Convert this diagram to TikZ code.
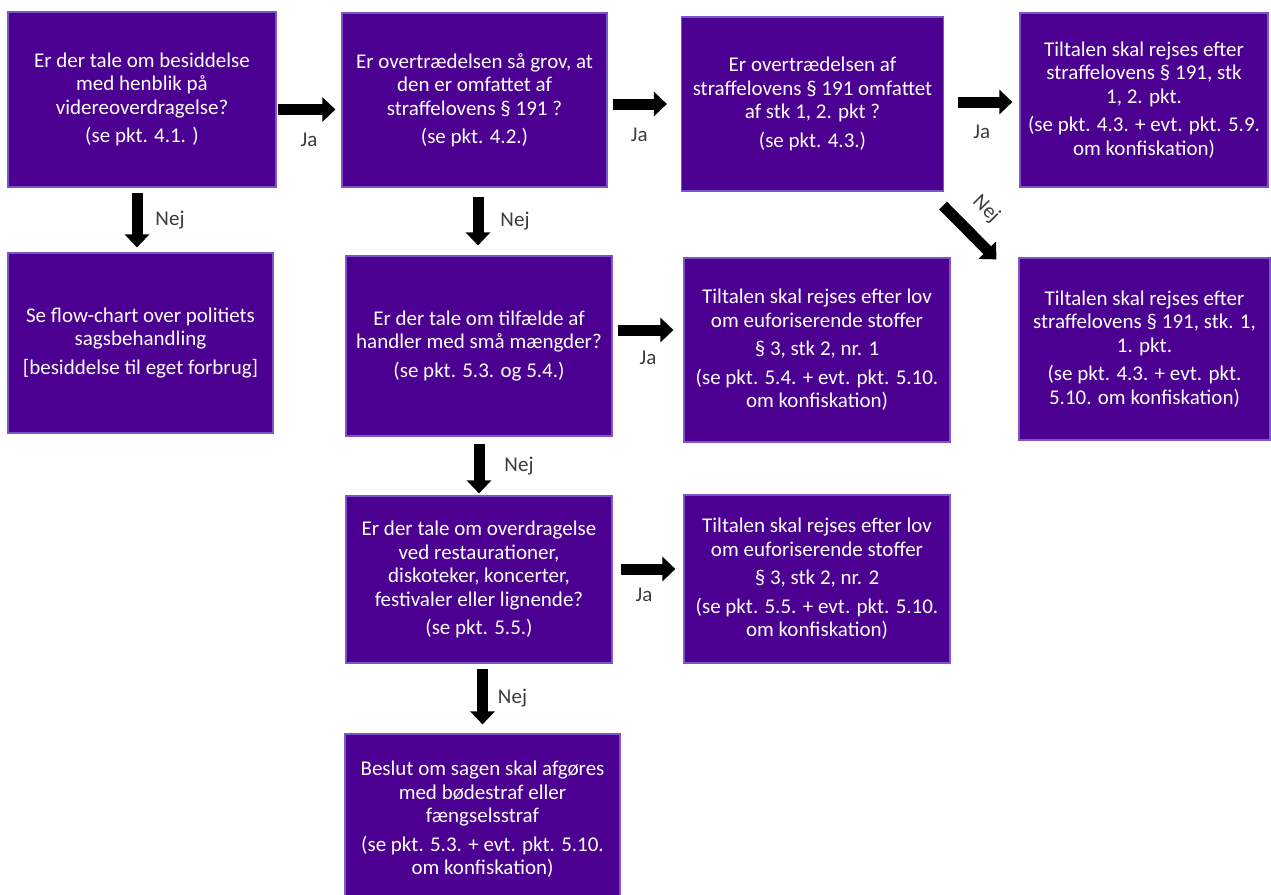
\documentclass[tikz,border=0pt]{standalone}
\usepackage{fontspec}
\setmainfont{Carlito}
\usetikzlibrary{positioning}
\usetikzlibrary{calc}
\usetikzlibrary{arrows.meta}

\definecolor{boxpurple}{RGB}{75,0,146}
\definecolor{boxedge}{RGB}{125,85,200}
\definecolor{lblgray}{RGB}{60,60,60}

\begin{document}
\begin{tikzpicture}[x=0.5pt,y=-0.5pt,
    box/.style={rectangle, fill=boxpurple, draw=boxedge, line width=0.6pt, text=white,
        align=center, inner sep=2pt, font=\fontsize{10.5}{11.75}\selectfont},
    bigarrow/.style={line width=5.5pt, -{Triangle[length=6.5pt,width=12pt]}},
    lbl/.style={text=lblgray, font=\fontsize{10.5}{12}\selectfont}]
    \fill[white] (0,0) rectangle (1271,895);
    \useasboundingbox (0,0) rectangle (1271,895);
    \clip (0,0) rectangle (1271,895);

    % first row
    \node[box, minimum width=134pt, minimum height=87.5pt] (besid) at (142,99.5)
        {Er der tale om besiddelse\\ med henblik på\\ videreoverdragelse?\\[2.5pt] (se pkt. 4.1. )};
    \node[box, minimum width=132.5pt, minimum height=87pt] (grov) at (474.5,100)
        {Er overtrædelsen så grov, at\\ den er omfattet af\\ straffelovens § 191 ?\\[2.5pt] (se pkt. 4.2.)};
    \node[box, minimum width=131pt, minimum height=87pt] (stkto) at (812.5,104)
        {Er overtrædelsen af\\ straffelovens § 191 omfattet\\ af stk 1, 2. pkt ?\\[2.5pt] (se pkt. 4.3.)};
    \node[box, minimum width=124pt, minimum height=87pt] (tiltA) at (1144,100)
        {Tiltalen skal rejses efter\\ straffelovens § 191, stk\\ 1, 2. pkt.\\[2.5pt] (se pkt. 4.3. + evt. pkt. 5.9.\\ om konfiskation)};

    % second row
    \node[box, minimum width=132.5pt, minimum height=90pt] (flow) at (140.5,343)
        {Se flow-chart over politiets\\ sagsbehandling\\[2.5pt] [besiddelse til eget forbrug]};
    \node[box, minimum width=133pt, minimum height=90pt] (smaa) at (479,346)
        {Er der tale om tilfælde af\\ handler med små mængder?\\[2.5pt] (se pkt. 5.3. og 5.4.)};
    \node[box, minimum width=133pt, minimum height=92pt] (tiltB) at (817,350)
        {Tiltalen skal rejses efter lov\\ om euforiserende stoffer\\[2.5pt] § 3, stk 2, nr. 1\\[2.5pt] (se pkt. 5.4. + evt. pkt. 5.10.\\ om konfiskation)};
    \node[box, minimum width=125.5pt, minimum height=91pt] (tiltC) at (1144.5,349)
        {Tiltalen skal rejses efter\\ straffelovens § 191, stk. 1,\\ 1. pkt.\\[2.5pt] (se pkt. 4.3. + evt. pkt.\\ 5.10. om konfiskation)};

    % third and fourth row
    \node[box, minimum width=133pt, minimum height=83.5pt] (resta) at (479,579.5)
        {Er der tale om overdragelse\\ ved restaurationer,\\ diskoteker, koncerter,\\ festivaler eller lignende?\\[2.5pt] (se pkt. 5.5.)};
    \node[box, minimum width=133pt, minimum height=84pt] (tiltD) at (817,579)
        {Tiltalen skal rejses efter lov\\ om euforiserende stoffer\\[2.5pt] § 3, stk 2, nr. 2\\[2.5pt] (se pkt. 5.5. + evt. pkt. 5.10.\\ om konfiskation)};
    \node[box, minimum width=137.5pt, minimum height=85.5pt] (beslut) at (482.5,819.5)
        {Beslut om sagen skal afgøres\\ med bødestraf eller\\ fængselsstraf\\[2.5pt] (se pkt. 5.3. + evt. pkt. 5.10.\\ om konfiskation)};

    % arrows
    \draw[bigarrow, shorten <=0.5pt, shorten >=3pt] ([yshift=-5pt]besid.east) -- ([yshift=-5pt]besid.east -| grov.west)
        node[lbl, midway, yshift=-15pt] {Ja};
    \draw[bigarrow, shorten <=2.5pt, shorten >=7pt] ([yshift=-2pt]grov.east) -- ([yshift=-2pt]grov.east -| stkto.west)
        node[lbl, midway, xshift=-2.5pt, yshift=-15.5pt] {Ja};
    \draw[bigarrow, shorten <=7pt, shorten >=3.5pt] ([yshift=1pt]stkto.east) -- ([yshift=1pt]stkto.east -| tiltA.west)
        node[lbl, midway, yshift=-15pt] {Ja};
    \draw[bigarrow, shorten <=2.5pt, shorten >=2.5pt] ([xshift=-2.5pt]besid.south) -- ([xshift=-2.5pt]besid.south |- flow.north)
        node[lbl, midway, xshift=16.5pt] {Nej};
    \draw[bigarrow, shorten <=4.5pt, shorten >=5pt] ([xshift=1.75pt]grov.south) -- ([xshift=1.75pt]grov.south |- smaa.north)
        node[lbl, midway, xshift=18.5pt] {Nej};
    \draw[bigarrow] ($(stkto.south east)+(-1,14)$) -- ($(tiltC.north west)+(-22,2)$)
        node[lbl, pos=0.43, sloped, above=3.5pt] {Nej};
    \draw[bigarrow, shorten <=2.5pt, shorten >=5pt] ([yshift=8pt]smaa.east) -- ([yshift=8pt]smaa.east -| tiltB.west)
        node[lbl, midway, yshift=-14pt] {Ja};
    \draw[bigarrow, shorten <=3.5pt, shorten >=1pt] (smaa.south) -- (smaa.south |- resta.north)
        node[lbl, midway, xshift=20pt] {Nej};
    \draw[bigarrow, shorten <=4pt, shorten >=4pt] ([yshift=5.25pt]resta.east) -- ([yshift=5.25pt]resta.east -| tiltD.west)
        node[lbl, midway, xshift=-2pt, yshift=-13pt] {Ja};
    \draw[bigarrow, shorten <=2.5pt, shorten >=4.5pt] ([xshift=1.75pt]resta.south) -- ([xshift=1.75pt]resta.south |- beslut.north)
        node[lbl, midway, xshift=15pt] {Nej};
\end{tikzpicture}
\end{document}
